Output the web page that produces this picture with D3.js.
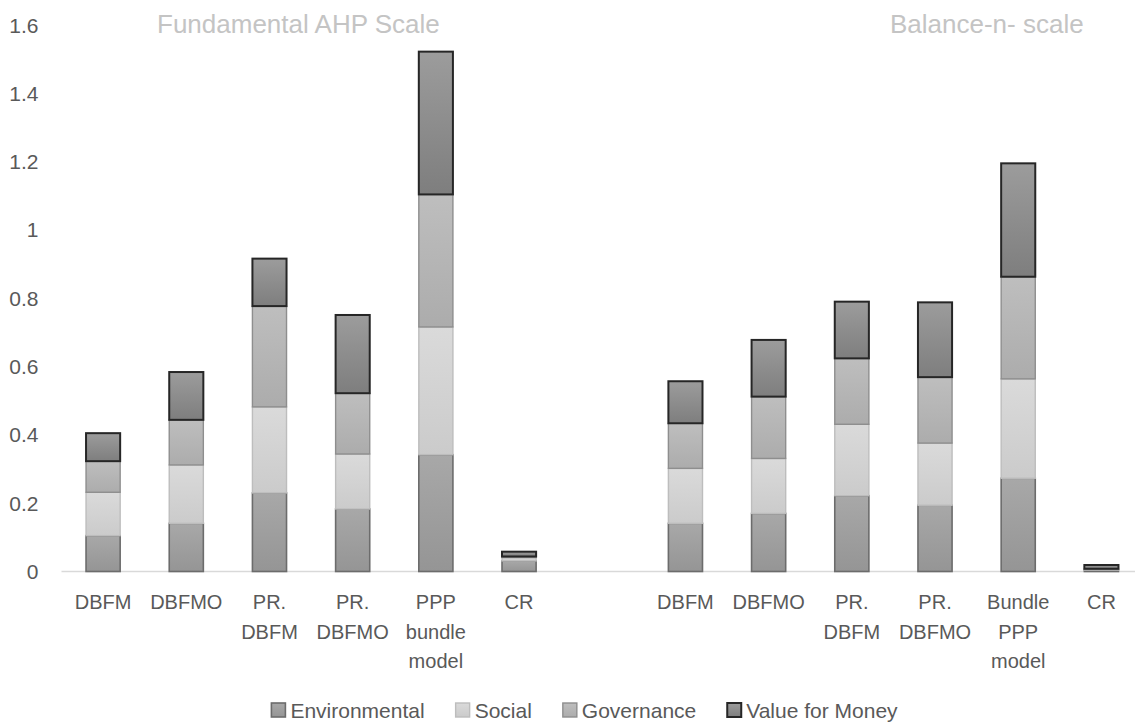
<!DOCTYPE html>
<html>
<head>
<meta charset="utf-8">
<script src="https://cdn.jsdelivr.net/npm/d3@7/dist/d3.min.js"></script>
<style>
  html, body { margin: 0; padding: 0; background: #ffffff; }
  svg { display: block; font-family: "Liberation Sans", Arial, sans-serif; }
</style>
</head>
<body>
<svg id="chart" width="1135" height="724"></svg>
<script>
// Two panels of stacked bars sharing one category axis
const leftCategories  = ["DBFM", "DBFMO", "PR. DBFM", "PR. DBFMO", "PPP bundle model", "CR"];
const rightCategories = ["DBFM", "DBFMO", "PR. DBFM", "PR. DBFMO", "Bundle PPP model", "CR"];

const seriesNames = ["Environmental", "Social", "Governance", "Value for Money"];

// Fundamental AHP scale
const leftEnvironmental = [0.105, 0.141, 0.230, 0.183, 0.342, 0.031];
const leftSocial        = [0.127, 0.171, 0.252, 0.161, 0.374, 0.010];
const leftGovernance    = [0.091, 0.132, 0.295, 0.178, 0.388, 0.003];
const leftValueForMoney = [0.082, 0.140, 0.139, 0.229, 0.418, 0.014];

// Balance-n scale
const rightEnvironmental = [0.141, 0.170, 0.222, 0.194, 0.273, 0.004];
const rightSocial        = [0.161, 0.161, 0.209, 0.182, 0.291, 0.002];
const rightGovernance    = [0.132, 0.181, 0.193, 0.193, 0.299, 0.002];
const rightValueForMoney = [0.123, 0.166, 0.166, 0.219, 0.332, 0.011];

const yTickValues = [0, 0.2, 0.4, 0.6, 0.8, 1, 1.2, 1.4, 1.6];
const yTickLabels = ["0", "0.2", "0.4", "0.6", "0.8", "1", "1.2", "1.4", "1.6"];

const panelTitles = ["Fundamental AHP Scale", "Balance-n- scale"];

// ---- build rows (left panel, one empty slot, right panel) ----
const rows = [];
leftCategories.forEach((c, i) => rows.push({
  slot: "L" + i, label: c,
  "Environmental": leftEnvironmental[i], "Social": leftSocial[i],
  "Governance": leftGovernance[i], "Value for Money": leftValueForMoney[i]
}));
const gapSlot = "gap";
rightCategories.forEach((c, i) => rows.push({
  slot: "R" + i, label: c,
  "Environmental": rightEnvironmental[i], "Social": rightSocial[i],
  "Governance": rightGovernance[i], "Value for Money": rightValueForMoney[i]
}));
const slots = rows.slice(0, 6).map(d => d.slot).concat([gapSlot], rows.slice(6).map(d => d.slot));

const svg = d3.select("#chart");

const x = d3.scaleBand()
  .domain(slots)
  .range([61.5, 1143])
  .paddingInner(0.59)
  .paddingOuter(0.295);

const y = d3.scaleLinear().domain([0, 1.6]).range([571.5, 25]);

// ---- styles per series ----
const styles = {
  "Environmental":   { top: "#a8a8a8", bottom: "#959595", stroke: "#6c6c6c", sw: 1.6 },
  "Social":          { top: "#dadada", bottom: "#cbcbcb", stroke: "#bdbdbd", sw: 1.4 },
  "Governance":      { top: "#bebebe", bottom: "#acacac", stroke: "#8e8e8e", sw: 1.4 },
  "Value for Money": { top: "#9c9c9c", bottom: "#7e7e7e", stroke: "#262626", sw: 2 }
};

const defs = svg.append("defs");
seriesNames.forEach((name, i) => {
  const g = defs.append("linearGradient")
    .attr("id", "grad" + i)
    .attr("x1", 0).attr("y1", 0).attr("x2", 0).attr("y2", 1);
  g.append("stop").attr("offset", "0%").attr("stop-color", styles[name].top);
  g.append("stop").attr("offset", "100%").attr("stop-color", styles[name].bottom);
});

// ---- baseline ----
svg.append("line")
  .attr("x1", 61.5).attr("x2", 1135)
  .attr("y1", y(0)).attr("y2", y(0))
  .attr("stroke", "#d9d9d9").attr("stroke-width", 1.5);

// ---- y tick labels ----
svg.append("g").selectAll("text")
  .data(yTickValues)
  .join("text")
  .attr("x", 38.5)
  .attr("y", d => y(d))
  .attr("dy", "0.36em")
  .attr("text-anchor", "end")
  .attr("font-size", 21)
  .attr("fill", "#595959")
  .text((d, i) => yTickLabels[i]);

// ---- stacked bars ----
const stack = d3.stack().keys(seriesNames);
const layers = stack(rows);

svg.append("g").selectAll("g")
  .data(layers)
  .join("g")
  .attr("fill", (d, i) => `url(#grad${i})`)
  .attr("stroke", d => styles[d.key].stroke)
  .attr("stroke-width", d => styles[d.key].sw)
  .selectAll("rect")
  .data(d => d)
  .join("rect")
  .attr("x", d => x(d.data.slot))
  .attr("width", x.bandwidth())
  .attr("y", d => y(d[1]))
  .attr("height", d => Math.max(0, y(d[0]) - y(d[1])));

// ---- category labels (one word per line) ----
const labelG = svg.append("g")
  .attr("font-size", 20)
  .attr("fill", "#595959")
  .attr("text-anchor", "middle");
rows.forEach(r => {
  const words = r.label.split(" ");
  const t = labelG.append("text")
    .attr("x", x(r.slot) + x.bandwidth() / 2)
    .attr("y", 609);
  words.forEach((w, i) => {
    t.append("tspan")
      .attr("x", x(r.slot) + x.bandwidth() / 2)
      .attr("dy", i === 0 ? 0 : 29.5)
      .text(w);
  });
});

// ---- panel titles ----
svg.append("text")
  .attr("x", 157).attr("y", 33)
  .attr("font-size", 26).attr("fill", "#c4c4c4")
  .text(panelTitles[0]);
svg.append("text")
  .attr("x", 890).attr("y", 33)
  .attr("font-size", 26).attr("fill", "#c4c4c4")
  .text(panelTitles[1]);

// ---- legend ----
const legend = svg.append("g").attr("font-size", 21).attr("fill", "#595959");
const box = 14, boxGap = 5, itemGap = 31;
const items = seriesNames.map((name, i) => {
  const g = legend.append("g");
  g.append("rect")
    .attr("x", 0).attr("y", -box / 2)
    .attr("width", box).attr("height", box)
    .attr("fill", `url(#grad${i})`)
    .attr("stroke", styles[name].stroke)
    .attr("stroke-width", styles[name].sw);
  const t = g.append("text")
    .attr("x", box + boxGap).attr("y", 0).attr("dy", "0.36em")
    .text(name);
  return { g, w: box + boxGap + t.node().getComputedTextLength() };
});
const totalW = d3.sum(items, d => d.w) + itemGap * (items.length - 1);
let cx = 584.5 - totalW / 2;
items.forEach(it => {
  it.g.attr("transform", `translate(${cx},710)`);
  cx += it.w + itemGap;
});
</script>
</body>
</html>
